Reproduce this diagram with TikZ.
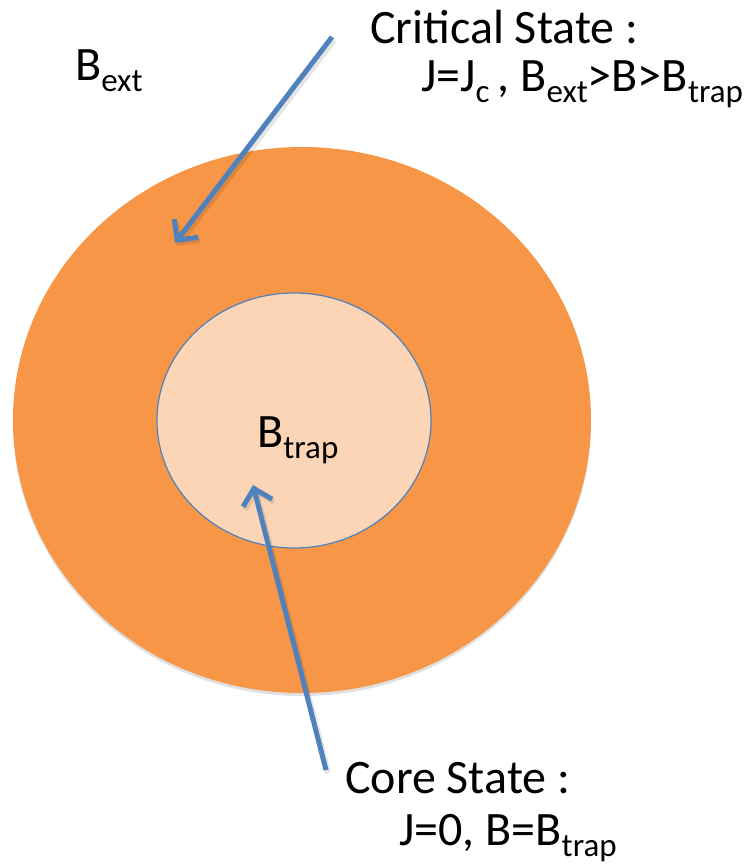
\documentclass[tikz,border=0pt]{standalone}
\usepackage{fontspec}
\setmainfont{Carlito}
\usetikzlibrary{arrows.meta,shapes.geometric,shadows}
\definecolor{outerorange}{RGB}{247,150,70}
\definecolor{innerpeach}{RGB}{251,213,181}
\definecolor{arrowblue}{RGB}{79,129,189}
\newcommand{\lowsub}[1]{\raisebox{-0.23em}{\fontsize{33}{35}\selectfont #1}}
\tikzset{
  lbl/.style={anchor=base west, inner sep=0pt, font=\fontsize{48}{56}\selectfont},
  bluearrow/.style={draw=arrowblue, line width=5pt, -{Straight Barb[length=15pt,width=30pt,line width=5pt]},
    preaction={draw=black, opacity=0.10, line width=6pt, transform canvas={shift={(2pt,-3pt)}}}},
}
\begin{document}
\begin{tikzpicture}[x=1pt,y=-1pt]
\useasboundingbox (0,0) rectangle (746,868);
\node[ellipse, fill=outerorange, minimum width=578pt, minimum height=546pt, inner sep=0pt,
  drop shadow={shadow xshift=0pt, shadow yshift=-3pt, opacity=0.12, fill=black}] (outer) at (302,420) {};
\node[ellipse, fill=innerpeach, draw=arrowblue, line width=1.2pt, minimum width=274pt, minimum height=255pt, inner sep=0pt] (inner) at (294,420.5) {};
\node[lbl] (bext) at (75,80) {B\lowsub{ext}};
\node[lbl] (btrap) at (257,447) {B\lowsub{trap}};
\node[lbl] (crit1) at (370,43) {Critical State :};
\node[lbl] (crit2) at (421,91) {J=J\lowsub{c}\,, B\lowsub{ext}>B>B\lowsub{trap}};
\node[lbl] (core1) at (345,793) {Core State :};
\node[lbl] (core2) at (399,845) {J=0, B=B\lowsub{trap}};
\coordinate (a1s) at (332,37);
\coordinate (a1e) at (175,243);
\coordinate (a2s) at (326,770);
\coordinate (a2e) at (253,485);
\draw[bluearrow] (a1s) -- (a1e);
\draw[bluearrow] (a2s) -- (a2e);
\end{tikzpicture}
\end{document}
